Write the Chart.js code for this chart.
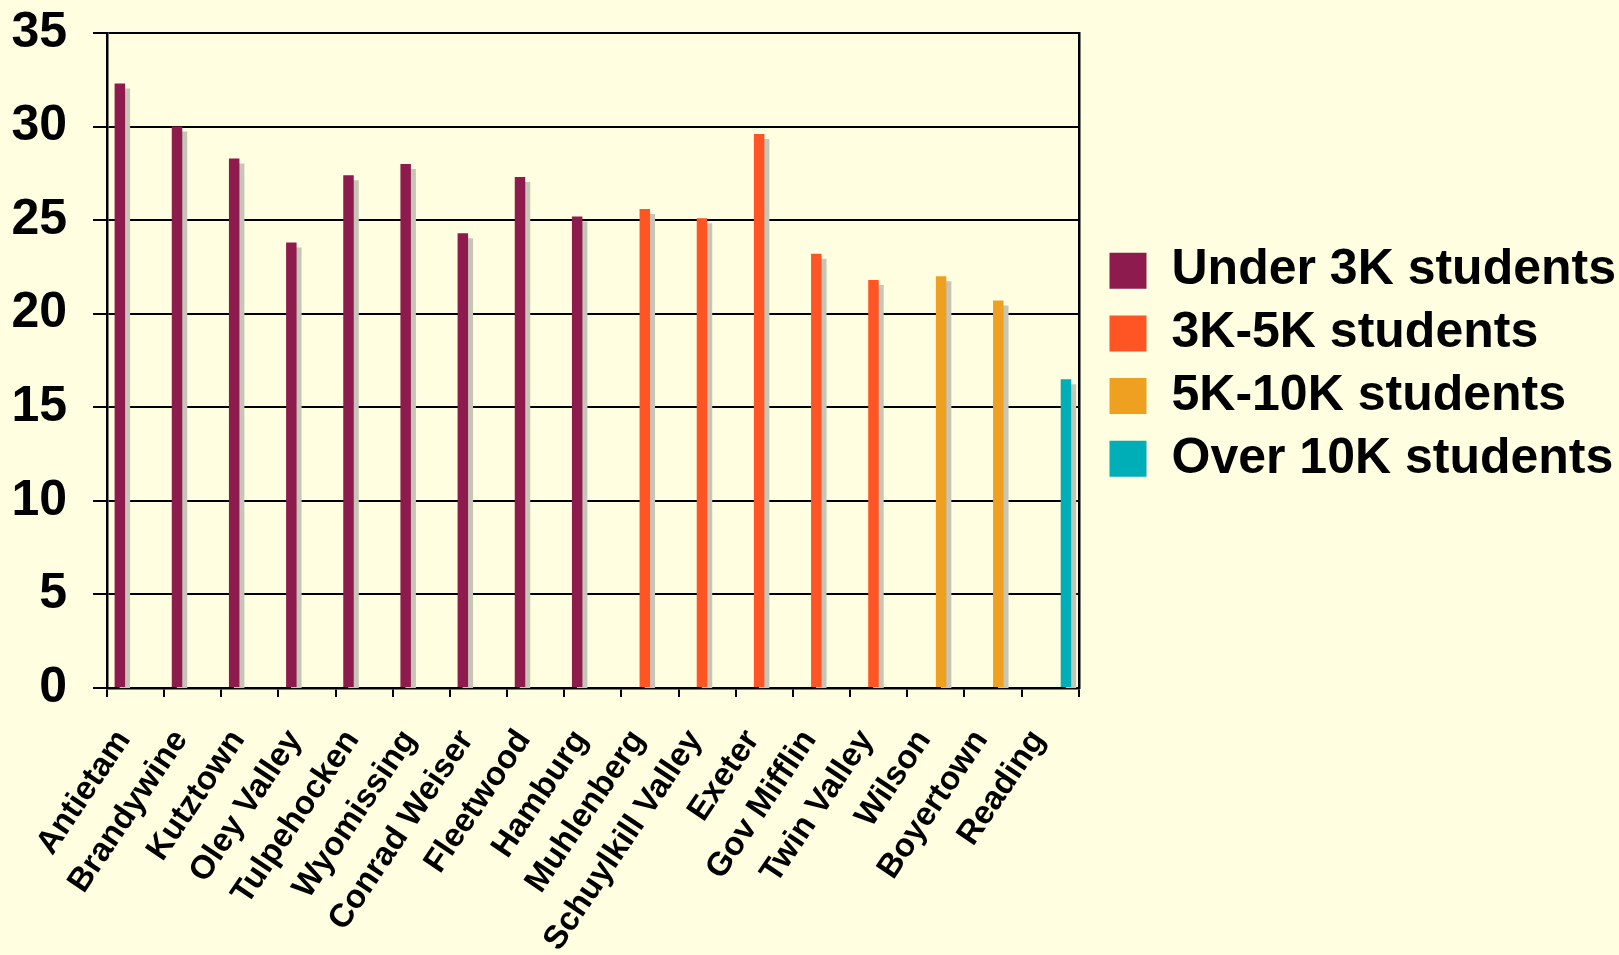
<!DOCTYPE html>
<html>
<head>
<meta charset="utf-8">
<script src="https://cdn.jsdelivr.net/npm/chart.js@4"></script>
<style>
  html, body { margin: 0; padding: 0; background: #FFFEE0; }
  #wrap { width: 1619px; height: 955px; position: relative; overflow: hidden; }
</style>
</head>
<body>
<div id="wrap"><canvas id="c" width="1619" height="955"></canvas></div>
<script>
const categories = ["Antietam", "Brandywine", "Kutztown", "Oley Valley", "Tulpehocken", "Wyomissing",
  "Conrad Weiser", "Fleetwood", "Hamburg", "Muhlenberg", "Schuylkill Valley", "Exeter",
  "Gov Mifflin", "Twin Valley", "Wilson", "Boyertown", "Reading"];
const seriesNames = ["Under 3K students", "3K-5K students", "5K-10K students", "Over 10K students"];
const under3K = [32.3, 30.0, 28.3, 23.8, 27.4, 28.0, 24.3, 27.3, 25.2, null, null, null, null, null, null, null, null];
const k3to5   = [null, null, null, null, null, null, null, null, null, 25.6, 25.1, 29.6, 23.2, 21.8, null, null, null];
const k5to10  = [null, null, null, null, null, null, null, null, null, null, null, null, null, null, 22.0, 20.7, null];
const over10K = [null, null, null, null, null, null, null, null, null, null, null, null, null, null, null, null, 16.5];
const seriesColors = ["#8E1B4E", "#FF5524", "#F0A020", "#00AEB8"];
const yTicks = [0, 5, 10, 15, 20, 25, 30, 35];

const FONT = "'Liberation Sans', Arial, sans-serif";

const shadowPlugin = {
  id: 'barShadow',
  beforeDatasetsDraw(chart) {
    const ctx = chart.ctx;
    ctx.save();
    ctx.shadowColor = '#C6C6B8';
    ctx.shadowOffsetX = 5;
    ctx.shadowOffsetY = 5;
    ctx.shadowBlur = 0;
  },
  afterDatasetsDraw(chart) {
    chart.ctx.restore();
  }
};

const bgPlugin = {
  id: 'bg',
  beforeDraw(chart) {
    const ctx = chart.ctx;
    ctx.save();
    ctx.fillStyle = '#FFFEE0';
    ctx.fillRect(0, 0, chart.width, chart.height);
    ctx.restore();
  }
};

const dataArrays = [under3K, k3to5, k5to10, over10K];

new Chart(document.getElementById('c'), {
  type: 'bar',
  data: {
    labels: categories,
    datasets: seriesNames.map((name, i) => ({
      label: name,
      data: dataArrays[i],
      backgroundColor: seriesColors[i],
      borderWidth: 0,
      categoryPercentage: 0.734,
      barPercentage: 1.0
    }))
  },
  options: {
    responsive: false,
    animation: false,
    devicePixelRatio: 1,
    layout: { padding: { top: 0, right: -7, left: 0, bottom: 0 } },
    plugins: {
      tooltip: { enabled: false },
      legend: {
        position: 'right',
        align: 'start',
        maxWidth: 540,
        title: { display: true, text: ' ', font: { size: 10 }, padding: { top: 221, bottom: 0 } },
        labels: {
          boxWidth: 37,
          boxHeight: 36,
          padding: 12.7,
          color: '#000',
          font: { family: FONT, size: 50, weight: 'bold' }
        }
      }
    },
    scales: {
      x: {
        offset: true,
        grid: { display: true, drawOnChartArea: false, drawTicks: true, tickLength: 9, color: '#000', lineWidth: 2, offset: true },
        border: { display: true, color: '#000', width: 2.5 },
        ticks: {
          autoSkip: false,
          minRotation: 56,
          maxRotation: 56,
          padding: 26,
          labelOffset: -12,
          color: '#000',
          font: { family: FONT, size: 33, weight: 'bold' }
        },
        afterFit(scale) { scale.height = 267; }
      },
      y: {
        min: 0,
        max: 35,
        afterBuildTicks(scale) { scale.ticks = yTicks.map(v => ({ value: v })); },
        grid: { color: '#000', lineWidth: 2, tickLength: 14, drawTicks: true },
        border: { display: true, color: '#000', width: 2.5 },
        ticks: {
          padding: 26,
          color: '#000',
          font: { family: FONT, size: 50, weight: 'bold' }
        },
        afterFit(scale) { scale.width = 107; scale.paddingTop = 33; }
      },
      y2: {
        position: 'right',
        min: 0,
        max: 35,
        grid: { display: false, drawTicks: false },
        border: { display: true, color: '#000', width: 2.5 },
        ticks: { display: false },
        afterFit(scale) { scale.width = 18; }
      }
    }
  },
  plugins: [bgPlugin, shadowPlugin]
});
</script>
</body>
</html>
